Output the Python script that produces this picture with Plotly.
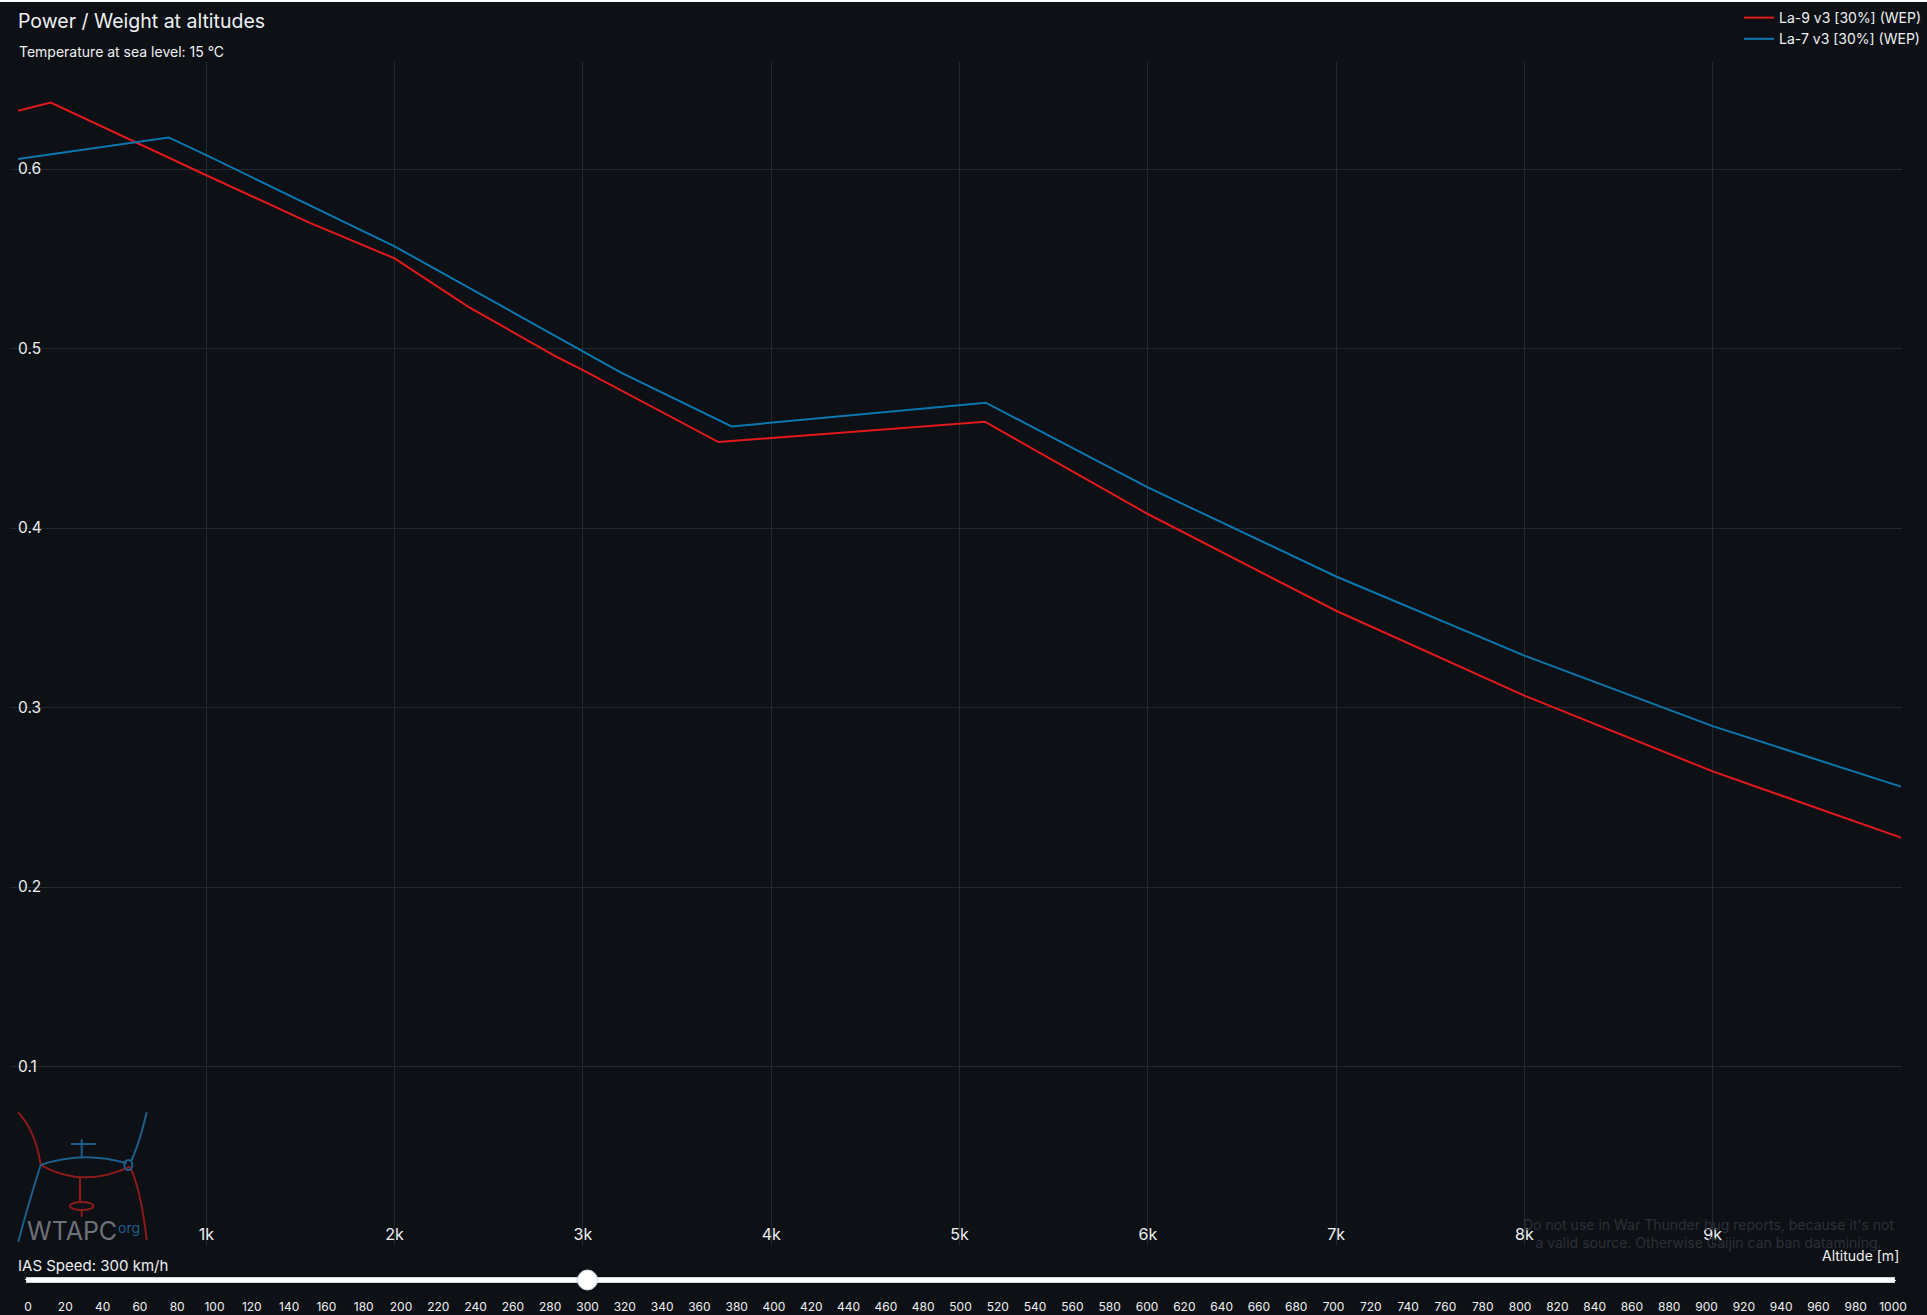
import plotly.graph_objects as go

# altitude [m] / power-to-weight readings
la9_alt = [0, 174, 1000, 1550, 2000, 2390, 2860, 3000, 3720, 5135, 6000, 7000, 8000, 9000, 10000]
la9_pw = [0.6325, 0.637, 0.5965, 0.570, 0.5502, 0.5233, 0.4954, 0.488, 0.4479, 0.4592, 0.4078, 0.3539, 0.3066, 0.2644, 0.2275]

la7_alt = [0, 800, 1000, 2000, 3000, 3200, 3790, 5140, 6000, 7000, 8000, 9000, 10000]
la7_pw = [0.6056, 0.6176, 0.6077, 0.5569, 0.4984, 0.4867, 0.4566, 0.4698, 0.4226, 0.373, 0.3289, 0.2896, 0.2559]

x_ticks = [1000, 2000, 3000, 4000, 5000, 6000, 7000, 8000, 9000]
x_labels = ["1k", "2k", "3k", "4k", "5k", "6k", "7k", "8k", "9k"]
y_ticks = [0.1, 0.2, 0.3, 0.4, 0.5, 0.6]
y_labels = ["0.1", "0.2", "0.3", "0.4", "0.5", "0.6"]

ias_speeds = list(range(0, 1001, 20))
ias_active = 300

BG = "#0d1015"
GRID = "#222a30"
TXT = "#eef0f2"
RED = "#e3191c"
BLUE = "#0a78b0"
LOGO_RED = "#8e1b1b"
LOGO_BLUE = "#1d5e8c"

OY = 2  # page strip above the figure
FW, FH = 1927, 1315 - OY
# plot area in page pixels
L, T, W, H = 18, 62, 1884, 1184
PX_PER_KM = 188.3


def px(x):
    return (x - L) / W


def py(y):
    return (T + H - y) / H


def pt(x, y):
    return f"{px(x):.5f},{py(y):.5f}"


fig = go.Figure()
fig.add_trace(go.Scatter(x=la9_alt, y=la9_pw, mode="lines", name="La-9 v3 [30%] (WEP)",
                         line=dict(color=RED, width=2)))
fig.add_trace(go.Scatter(x=la7_alt, y=la7_pw, mode="lines", name="La-7 v3 [30%] (WEP)",
                         line=dict(color=BLUE, width=2)))

# logo drawn with simple paths
logo_paths = [
    (LOGO_RED, f"M {pt(18.3,1112.3)} Q {pt(36,1132)} {pt(40.7,1165)}"),
    (LOGO_RED, f"M {pt(40.7,1165)} Q {pt(83.3,1188.8)} {pt(130,1166.7)}"),
    (LOGO_RED, f"M {pt(130,1166.7)} Q {pt(141,1190)} {pt(146.7,1240)}"),
    (LOGO_RED, f"M {pt(80,1177)} L {pt(80,1202)}"),
    (LOGO_RED, f"M {pt(81.7,1210)} L {pt(81.7,1216.7)}"),
    (LOGO_BLUE, f"M {pt(40.7,1165)} Q {pt(83.3,1150.4)} {pt(126.7,1163.3)}"),
    (LOGO_BLUE, f"M {pt(71,1144)} L {pt(95.7,1144)}"),
    (LOGO_BLUE, f"M {pt(81.7,1139.3)} L {pt(81.7,1158.3)}"),
    (LOGO_BLUE, f"M {pt(146.7,1112.3)} Q {pt(139,1145)} {pt(130.7,1161.7)}"),
    (LOGO_BLUE, f"M {pt(40.7,1165)} Q {pt(28,1205)} {pt(18.3,1241.7)}"),
]
shapes = [dict(type="path", xref="paper", yref="paper", path=p,
               line=dict(color=c, width=2)) for c, p in logo_paths]
shapes.append(dict(type="circle", xref="paper", yref="paper",
                   x0=px(70), x1=px(93.4), y0=py(1202), y1=py(1210),
                   line=dict(color=LOGO_RED, width=2)))
shapes.append(dict(type="circle", xref="paper", yref="paper",
                   x0=px(124.3), x1=px(132.3), y0=py(1160), y1=py(1170),
                   line=dict(color=LOGO_BLUE, width=2)))

annotations = [
    dict(text="Temperature at sea level: 15 °C", x=px(17), y=py(52), xref="paper", yref="paper",
         xanchor="left", yanchor="middle", showarrow=False, font=dict(size=14, color=TXT)),
    dict(text="Altitude [m]", x=px(1901), y=py(1255), xref="paper", yref="paper",
         xanchor="right", yanchor="middle", showarrow=False, font=dict(size=14, color=TXT)),
    dict(text="Do not use in War Thunder bug reports, because it's not<br>a valid source. Otherwise Gaijin can ban datamining.",
         x=px(1708), y=py(1233), xref="paper", yref="paper", xanchor="center", yanchor="middle",
         showarrow=False, font=dict(size=14, color="#2c3138")),
    dict(text="WTAPC", x=px(71.5), y=py(1231), xref="paper", yref="paper", xanchor="center",
         yanchor="middle", showarrow=False, font=dict(size=25, color="#6e7177")),
    dict(text="org", x=px(129), y=py(1227), xref="paper", yref="paper", xanchor="center",
         yanchor="middle", showarrow=False, font=dict(size=14, color=LOGO_BLUE)),
]

steps = [dict(label=str(v), method="skip", args=[]) for v in ias_speeds]

fig.update_layout(
    width=FW, height=FH,
    paper_bgcolor=BG, plot_bgcolor=BG,
    font=dict(family="Inter, Noto Sans, sans-serif", color=TXT),
    margin=dict(l=L, r=FW - L - W, t=T - OY, b=FH - (T - OY) - H, autoexpand=False),
    title=dict(text="Power / Weight at altitudes", x=18 / FW, xanchor="left",
               y=1 - (21.5 - OY) / FH, yanchor="middle", font=dict(size=19.5, color=TXT)),
    showlegend=True,
    legend=dict(x=px(1927), xanchor="right", y=py(2), yanchor="top",
                bgcolor="rgba(0,0,0,0)", font=dict(size=14, color=TXT), tracegroupgap=0),
    shapes=shapes,
    annotations=annotations,
    sliders=[dict(
        active=ias_speeds.index(ias_active), steps=steps,
        x=px(17.7), len=1885 / W, y=0, yanchor="top", xanchor="left",
        pad=dict(t=5, b=0, l=0, r=0),
        currentvalue=dict(prefix="IAS Speed: ", suffix=" km/h", xanchor="left", offset=0,
                          font=dict(size=15, color=TXT)),
        bgcolor="#ffffff", activebgcolor="#ffffff", bordercolor="#d0d7de", borderwidth=1,
        ticklen=0, minorticklen=0, tickcolor=BG, tickwidth=0,
        font=dict(size=12, color=TXT),
    )],
)

fig.update_xaxes(range=[0, W / PX_PER_KM * 1000], tickvals=x_ticks, ticktext=x_labels,
                 ticklabelposition="inside", showgrid=True, gridcolor=GRID, gridwidth=1,
                 zeroline=False, showline=False, tickfont=dict(size=16, color=TXT))
fig.update_yaxes(range=[0, H / 1795], tickvals=y_ticks, ticktext=y_labels,
                 ticklabelposition="inside", ticks="outside", ticklen=6, tickcolor=GRID,
                 ticklabelstandoff=-3,
                 showgrid=True, gridcolor=GRID, gridwidth=1, zeroline=False, showline=False,
                 tickfont=dict(size=15.5, color=TXT))

page_css = ("document.body.style.margin='0';"
            "document.body.style.paddingTop='%dpx';"
            "document.body.style.overflow='hidden';" % OY)

fig.write_html("out.html", config=dict(displayModeBar=False), post_script=page_css)
